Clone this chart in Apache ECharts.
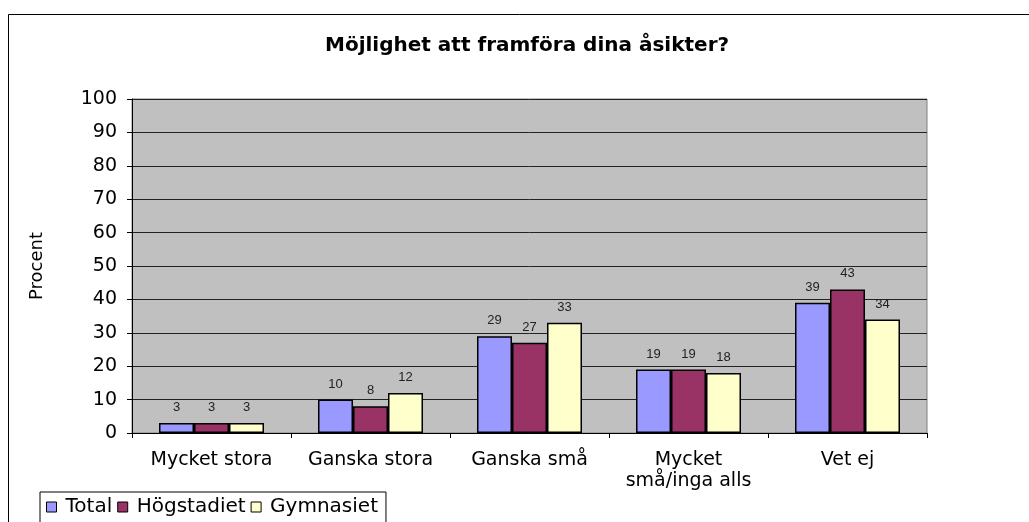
<!DOCTYPE html>
<html>
<head>
<meta charset="utf-8">
<script src="https://cdn.jsdelivr.net/npm/echarts@6/dist/echarts.min.js"></script>
<style>
  html, body { margin: 0; padding: 0; background: #fff; }
  #chart { width: 1029px; height: 522px; }
</style>
</head>
<body>
<div id="chart"></div>
<script>
// kategorier och värden (procent)
var categories = ['Mycket stora', 'Ganska stora', 'Ganska små', 'Mycket\nsmå/inga alls', 'Vet ej'];
var total = [3, 10, 29, 19, 39];
var hogstadiet = [3, 8, 27, 19, 43];
var gymnasiet = [3, 12, 33, 18, 34];
var seriesNames = ['Total', 'Högstadiet', 'Gymnasiet'];
var colors = ['#9999FF', '#993366', '#FFFFCC'];

var font = 'DejaVu Sans, Verdana, sans-serif';

function bar(name, data, color) {
  return {
    name: name,
    type: 'bar',
    data: data,
    barGap: '0%',
    barWidth: 35,
    itemStyle: { color: color, borderColor: '#000', borderWidth: 1.5 },
    label: {
      show: true,
      position: 'top',
      distance: 9,
      color: '#222',
      fontSize: 13,
      fontFamily: 'Liberation Sans, Arial, sans-serif'
    }
  };
}

var chart = echarts.init(document.getElementById('chart'));
chart.setOption({
  backgroundColor: '#fff',
  animation: false,
  color: colors,
  title: {
    text: 'Möjlighet att framföra dina åsikter?',
    left: 320,
    top: 31,
    textStyle: { fontFamily: font, fontSize: 20, fontWeight: 'bold', color: '#000' }
  },
  grid: { left: 132, right: 102, top: 99, bottom: 89, containLabel: false, show: true,
    backgroundColor: '#C0C0C0', borderColor: '#808080', borderWidth: 1 },
  legend: {
    left: 40,
    top: 492,
    data: seriesNames,
    icon: 'rect',
    itemWidth: 10,
    itemHeight: 10,
    itemGap: 5,
    padding: [5, 8, 10, 6],
    borderColor: '#000',
    borderWidth: 1,
    textStyle: { fontFamily: font, fontSize: 20, color: '#000', padding: [0, 0, 0, 4] },
    itemStyle: { borderColor: '#000', borderWidth: 1 }
  },
  xAxis: {
    type: 'category',
    data: categories,
    axisLine: { lineStyle: { color: '#000', width: 1 } },
    axisTick: { show: true, length: 5, lineStyle: { color: '#000' } },
    axisLabel: { interval: 0, fontFamily: font, fontSize: 19, color: '#000', margin: 17, lineHeight: 21 }
  },
  yAxis: {
    type: 'value',
    min: 0,
    max: 100,
    interval: 10,
    name: 'Procent',
    nameLocation: 'middle',
    nameGap: 86,
    nameRotate: 90,
    nameTextStyle: { fontFamily: font, fontSize: 18, color: '#000' },
    axisLine: { show: true, lineStyle: { color: '#000', width: 1 } },
    axisTick: { show: true, length: 5, lineStyle: { color: '#000' } },
    axisLabel: { fontFamily: font, fontSize: 19, color: '#000', margin: 15 },
    splitLine: { lineStyle: { color: '#222', width: 1 } }
  },
  graphic: [{
    type: 'rect',
    shape: { x: 8.5, y: 14.5, width: 1040, height: 530 },
    style: { fill: null, stroke: '#000', lineWidth: 1 },
    silent: true,
    z: -1
  }],
  series: [
    bar(seriesNames[0], total, colors[0]),
    bar(seriesNames[1], hogstadiet, colors[1]),
    bar(seriesNames[2], gymnasiet, colors[2])
  ]
});
</script>
</body>
</html>
